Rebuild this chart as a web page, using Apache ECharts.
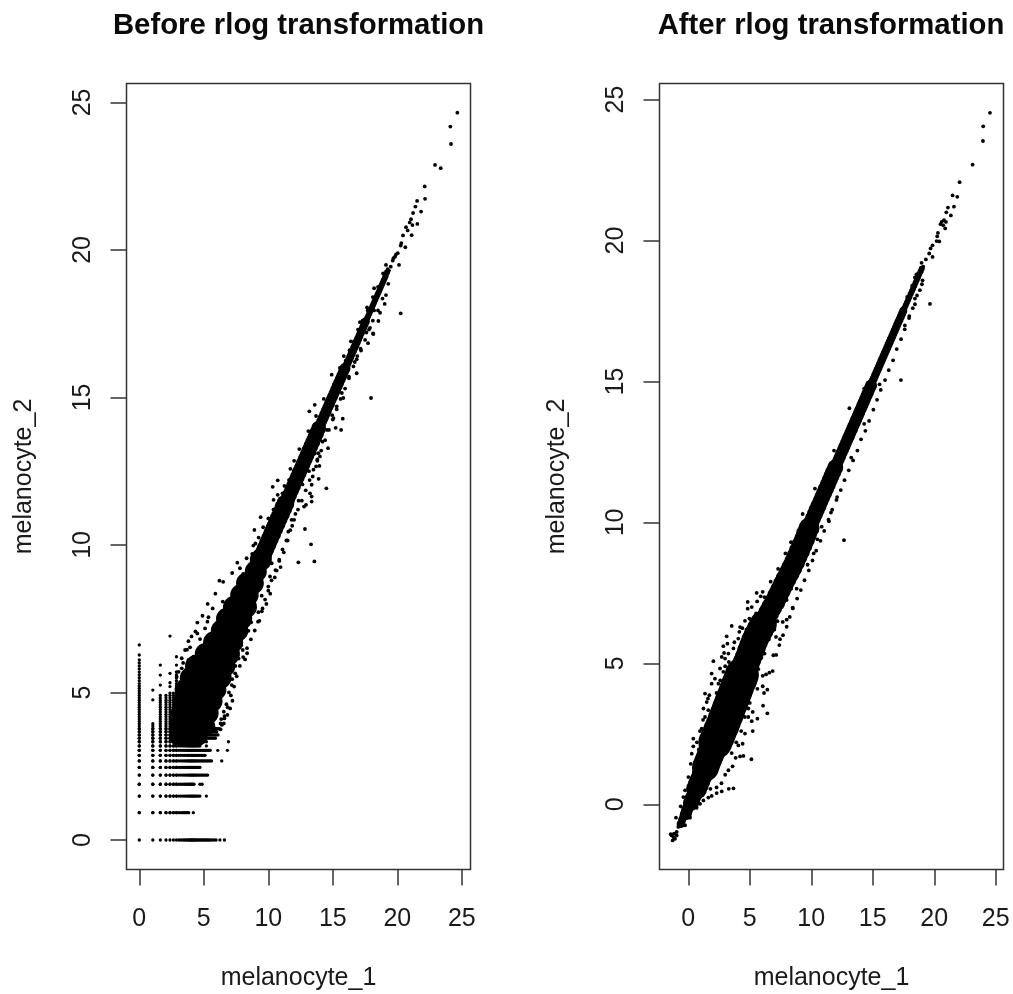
<!DOCTYPE html>
<html><head><meta charset="utf-8">
<style>html,body{margin:0;padding:0;background:#fff}#c{width:1013px;height:994px}</style>
<script src="https://cdn.jsdelivr.net/npm/echarts@6/dist/echarts.min.js"></script></head>
<body><div id="c"></div>
<script>
const tickValues=[0,5,10,15,20,25];
const titles=['Before rlog transformation','After rlog transformation'];
const xName='melanocyte_1', yName='melanocyte_2';

// --- left panel: discrete low-count rows and columns
const xLevels=[0,1.05,1.63,2.07,2.38,2.65,2.88,3.07,3.23,3.38,3.5,3.62,3.73,3.83,3.92,4,4.08,4.16,4.24,4.32,4.4,4.5,4.6,4.7,4.8,4.9,5,5.1,5.2,5.3,5.4,5.5,5.6,5.7,5.8,5.9,6,6.1,6.2];
const yLevels=[.925,1.49,1.89,2.2,2.46,2.68,2.87,3.04,3.19,3.33,3.45,3.56,3.67,3.77,3.86,3.94,4.02,4.1,4.18,4.26,4.34,4.42,4.5,4.58,4.66,4.74,4.82,4.9,4.98,5.06,5.14,5.22,5.3,5.4,5.5,5.6,5.7,5.8,5.9,6,6.1];
const leftRows=[[0,5.5,[5.65,5.8,5.95,6.25,6.6]],[.925,3.83,[4.19]],[1.49,4.7,[5.2]],[1.89,4.24,[4.7,4.87]],[2.2,5.3,[]],[2.46,4.7,[]],[2.68,5.6,[6.39]],[2.87,5.1,[]],[3.04,5.5,[6.08,6.83]],[3.19,4.7,[5.2]],[3.33,4.8,[5.2,6.91]],[3.45,5.9,[]],[3.56,6.1,[]],[3.67,6,[]],[3.77,6.2,[]]];
const leftCols=[[0,6.1,[6.27,6.61]],[1.05,3.94,[4.75,5.08]],[1.63,4.9,[5.25,5.59,5.93]],[2.07,4.9,[]],[2.38,5,[5.2,5.33,5.65,6.91]],[2.65,5,[]],[2.88,5.7,[5.93,6.21]]];

// --- left panel: dense cloud, summarised as overlapping discs of several widths
const leftCoreXL=[[3.2,3.95],[4,3.95],[4.9,3.95],[3.3,4.3],[4.3,4.3],[5.3,4.3],[3.5,4.7],[4.5,4.7],[5.6,4.7],[3.6,5.1],[4.8,5.1],[5.9,5.1],[4,5.5],[5.2,5.5],[6.3,5.5],[4.4,5.9],[5.5,5.9],[6.6,5.9],[5.15,6.3],[6,6.3],[6.95,6.3],[5.8,6.7],[6.5,6.7],[7.2,6.7],[6.4,7.1],[7,7.1],[7.6,7.1],[6.8,7.5],[7.9,7.5],[7.3,7.5],[7.34,7.9],[8.27,7.9],[7.9,8.3],[8.4,8.3],[8.35,8.7],[8.8,8.7],[9.03,9.1],[9.42,9.5]];
const leftCoreL=[[3,3.5],[3.4,3.5],[3.8,3.5],[4.2,3.5],[4.6,3.5],[3,3.75],[3.6,3.75],[4.2,3.75],[4.8,3.75],[5.2,3.85],[9.62,9.7],[9.78,9.87],[9.95,10.04],[10.12,10.21],[10.3,10.38],[10.46,10.55],[10.64,10.72],[10.8,10.89],[10.98,11.06],[11.15,11.23],[11.32,11.4]];
const leftCoreM=[[11.5,11.55],[11.65,11.7],[11.8,11.85],[11.95,12],[12.1,12.15],[12.25,12.3],[12.4,12.45],[12.55,12.6],[12.7,12.75],[12.85,12.9],[13,13.05],[13.15,13.2],[13.3,13.35],[13.45,13.5],[13.6,13.65],[13.75,13.8],[13.9,13.95]];
const leftCoreS=[[14.02,14.07],[14.14,14.19],[14.26,14.31],[14.38,14.43],[14.5,14.55],[14.62,14.67],[14.74,14.79],[14.86,14.91],[14.98,15.03],[15.1,15.14],[15.22,15.26],[15.34,15.38],[15.46,15.5],[15.58,15.62],[15.7,15.74],[15.82,15.86],[15.94,15.98]];
const leftCoreXS=[[16.06,16.08],[16.16,16.18],[16.26,16.28],[16.36,16.38],[16.46,16.48],[16.56,16.58],[16.66,16.68],[16.76,16.78],[16.86,16.88],[16.96,16.98],[17.06,17.08],[17.16,17.18],[17.26,17.28],[17.36,17.38],[17.46,17.48],[17.56,17.58]];
const leftCoreThin=[[17.66,17.68],[17.74,17.76],[17.82,17.84],[17.9,17.92],[17.98,18],[18.06,18.08],[18.14,18.16],[18.22,18.24],[18.3,18.32],[18.38,18.4],[18.46,18.48],[18.54,18.56],[18.62,18.64],[18.7,18.72],[18.78,18.8],[18.86,18.88],[18.94,18.96],[19.02,19.04],[19.1,19.12],[19.2,19.24]];

// --- left panel: individual outlying points
const leftDots=[[24.65,24.65],[24.11,24.18],[24.16,23.59],[22.92,22.88],[23.36,22.77],[22.12,22.15],[22.15,21.73],[21.53,21.66],[21.4,21.47],[21.84,21.3],[21.22,21.25],[21.06,21.04],[20.96,20.93],[21.55,20.88],[21.17,20.84],[20.67,20.77],[20.8,20.66],[20.44,20.49],[21.11,20.5],[20.31,20.23],[20.62,20.09],[20.26,20.15],[20.03,19.89],[19.82,19.77],[19.64,19.64],[20.13,19.49],[19.12,19.49],[19.49,19.43],[19.7,19.72],[19.9,19.85],[19.35,19.3],[19.25,19.35],[20.26,17.85],[19.02,18.17],[18.53,17.59],[18.12,17.17],[19.12,18.47],[18.66,17.87],[17.88,17.36],[17.96,14.98],[18.14,17.15],[17.73,16.84],[17.19,16.59],[16.85,16.29],[16.85,15.82],[14.91,15.77],[15.81,14.98],[13.18,14.53],[13.7,14.37],[15.77,14.28],[15.22,13.97],[15.64,13.9],[13.1,13.86],[14.63,13.28],[13.88,13.11],[14,13],[13.8,12.85],[13.96,12.68],[13.7,12.66],[13.44,12.32],[13.9,12.24],[14.5,11.92],[13.36,12.04],[13.23,11.75],[13.36,11.64],[13.36,11.47],[12.92,11.36],[12.77,11.3],[11.71,12.58],[10.73,12.19],[10.34,11.97],[10.73,11.7],[10.41,11.53],[9.41,10.94],[8.92,10.51],[12.84,10.54],[13.31,10.02],[12.33,9.41],[13.57,9.44],[10.85,9.46],[10.65,9.13],[10.26,9.38],[10.13,8.93],[10,8.59],[8.84,9.98],[8.32,9.55],[7.8,9.21],[8.06,9.02],[11.55,10.45],[11.81,10.85],[6.21,8.79],[9.49,8.28],[9.31,7.43],[9.23,7.72],[8.67,7.38],[8.46,7.09],[8.36,6.33],[8.2,6.12],[8.02,6.44],[7.43,5.65],[7.17,5.25],[7.22,4.72],[7.04,4.46],[6.83,4.24],[6.6,4.12],[5.69,7.85],[6.47,8.08],[5.36,7.55],[4.5,7.37],[4.35,7.07],[5.1,7.17],[5.28,7.4],[3.81,6.74],[4.71,6.81],[3.55,6.44],[3.29,6.16],[3.94,6.53],[4.2,6.21],[3.81,6.1],[3.29,5.82],[3.81,5.82],[3.29,5.48],[2.9,5.53],[3.2,5.1],[3.1,4.7],[2.95,4.4],[14.3,14.95],[13.6,14.75],[14.95,14.4],[12.4,13.25],[12,12.85],[11.6,12.2],[11.25,12],[11.1,11.75],[10.7,11.4],[10.4,11.2],[10,10.9],[9.6,10.6],[9.25,10.25],[9,10.05],[8.75,9.7],[13.6,13.1],[13.15,12.5],[12.65,12.05],[12.35,11.5],[12.1,11.05],[11.85,10.65],[11.5,10.15],[11.2,9.75],[10.95,9.25],[10.5,8.9],[10.15,8.35],[9.85,8],[9.55,7.85],[16.7,16.2],[16.25,15.7],[15.7,15.15],[15.3,14.7],[15.05,14.3],[14.55,13.9],[14.2,13.5],[15.55,16],[15.1,15.45],[15.85,16.4],[16.4,16.9],[17.1,17.55],[17.65,18.05],[18.2,18.7],[17.6,17.2],[18.2,17.95],[8.9,7.8],[8.55,7.55],[8.2,6.95],[7.9,6.6],[7.7,6.15],[7.45,5.9],[7.2,5.45],[6.95,5],[6.75,4.6],[6.55,4.35],[6.3,3.95],[6.35,4.1],[5.3,8],[5.9,8.35],[6.5,8.75],[7.2,9.05],[7.6,9.4],[4.9,7.6],[4.5,7],[4.05,6.9],[3.7,6.45],[3.4,6],[3.05,5.7]];
const leftEdge=[[18.9,19.2],[19.3,18.85],[18.5,18.75],[18.85,18.35],[18.1,18.4],[18.5,17.95],[17.7,17.95],[18.1,17.6],[17.3,17.6],[17.8,17.3],[16.95,17.3],[17.5,16.95],[16.65,16.9],[17.15,16.65],[16.3,16.6],[16.9,16.4],[16,16.25],[16.6,16.05],[15.65,15.9],[16.25,15.65],[15.35,15.55],[15.95,15.3],[15,15.2],[15.6,14.95],[14.65,14.85],[15.3,14.6],[14.35,14.55],[15,14.25],[14,14.2],[14.7,13.9],[13.65,13.9],[14.4,13.55],[13.3,13.55],[14.1,13.2],[12.95,13.2],[13.8,12.9],[12.6,12.9],[13.5,12.55],[12.3,12.55],[13.2,12.2],[11.95,12.25],[12.9,11.85],[11.6,11.9],[12.6,11.5],[11.3,11.6],[12.3,11.2],[10.95,11.25],[12,10.85],[10.6,10.9],[11.7,10.5],[10.25,10.6],[11.4,10.15],[9.9,10.25],[11.1,9.85],[9.6,9.95],[10.85,9.5],[9.25,9.6],[10.55,9.15],[8.95,9.3],[10.25,8.8],[8.6,9],[10,8.45],[8.25,8.7],[9.75,8.15],[7.9,8.35],[9.5,7.75],[7.5,8.05],[9.2,7.4],[7.2,7.75],[6.9,7.5],[6.5,7.2],[6.15,6.9],[8.95,7.1],[8.65,6.8],[8.35,6.5],[8.05,6.2],[7.8,5.9],[7.55,5.55],[7.35,5.2],[7.1,4.9],[6.85,4.5],[6.6,4.2],[6.4,3.9],[6.3,3.75],[6.55,3.95]];

// --- right panel: dense cloud, summarised as overlapping discs of several widths
const rightCoreXL=[[2.2,2.2],[2.4,2.4],[2.58,2.6],[2.78,2.8],[2.95,3],[3.13,3.2],[3.3,3.4],[3.48,3.6],[3.66,3.8],[3.84,4],[4,4.2],[4.2,4.4],[4.36,4.6]];
const rightCoreL=[[1.4,1.3],[1.52,1.45],[1.66,1.6],[1.8,1.75],[1.94,1.9],[2.07,2.05],[4.52,4.8],[4.7,5],[4.88,5.2],[5.05,5.4],[5.22,5.6],[5.4,5.8],[5.6,6],[5.85,6.2],[6.1,6.4]];
const rightCoreM=[[.68,.55],[.82,.7],[.95,.85],[1.1,1],[1.25,1.15],[6.32,6.6],[6.55,6.8],[6.8,7],[7.05,7.2],[7.28,7.4],[7.5,7.6],[7.72,7.8],[7.95,8],[8.2,8.2],[8.42,8.4],[8.65,8.6],[8.85,8.8],[9.05,9],[9.25,9.2],[9.45,9.4],[9.62,9.6],[9.82,9.8]];
const rightCoreS=[[.22,.05],[.35,.2],[.5,.35],[.6,.45],[10,10],[10.15,10.15],[10.3,10.3],[10.45,10.45],[10.6,10.6],[10.75,10.75],[10.9,10.9],[11.05,11.05],[11.2,11.2],[11.35,11.35],[11.5,11.5],[11.65,11.65],[11.8,11.8],[11.95,11.95]];
const rightCoreXS=[[-.2,-.35],[-.1,-.2],[.05,-.05],[12.1,12.1],[12.22,12.22],[12.34,12.34],[12.46,12.46],[12.58,12.58],[12.7,12.7],[12.82,12.82],[12.94,12.94],[13.06,13.06],[13.18,13.18],[13.3,13.3],[13.42,13.42],[13.54,13.54],[13.66,13.66],[13.78,13.78],[13.9,13.9],[14.02,14.02],[14.14,14.14],[14.26,14.26],[14.38,14.38],[14.5,14.5],[14.62,14.62],[14.74,14.74],[14.86,14.86]];
const rightCoreThin=[[-.62,-.7],[-.5,-.55],[-.4,-.45],[14.98,15],[15.08,15.1],[15.18,15.2],[15.28,15.3],[15.38,15.4],[15.48,15.5],[15.58,15.6],[15.68,15.7],[15.78,15.8],[15.88,15.9],[15.98,16],[16.08,16.1],[16.18,16.2],[16.28,16.3],[16.38,16.4],[16.48,16.5],[16.58,16.6],[16.68,16.7],[16.78,16.8],[16.88,16.9],[16.98,17],[17.08,17.1],[17.18,17.2],[17.28,17.3],[17.38,17.4],[17.48,17.5]];
const rightCoreHair=[[17.58,17.6],[17.68,17.7],[17.78,17.8],[17.88,17.9],[17.98,18],[18.08,18.1],[18.18,18.2],[18.28,18.3],[18.38,18.4],[18.48,18.5],[18.58,18.6],[18.68,18.7],[18.78,18.8],[18.88,18.9],[18.98,19]];

// --- right panel: individual outlying points
const rightDots=[[24.53,24.53],[23.98,24.05],[23.96,23.53],[23.12,22.69],[22.06,22.07],[21.49,21.6],[21.87,21.55],[21.11,21.17],[21.6,21.2],[20.98,21],[21.35,20.89],[20.79,20.72],[20.6,20.66],[20.95,20.66],[20.51,20.58],[20.73,20.54],[20.89,20.43],[20.3,20.27],[20.24,20.15],[20.19,19.98],[20.41,19.97],[19.86,19.83],[19.7,19.72],[19.59,19.54],[19.86,19.42],[19.32,19.33],[18.97,19.21],[19.1,19.07],[19.65,17.75],[18.83,18.24],[18.43,18.69],[19.05,18.59],[18.43,17.94],[18.43,17.74],[17.97,17.32],[17.61,16.99],[18.97,18.89],[17.29,15.05],[12.66,9.37],[11.44,10.04],[11.6,10.35],[12.1,10.9],[13.25,12.3],[14.3,13.5],[13.1,14.05],[14.3,14.75],[15.55,14.9],[11.85,12.55],[10.3,11.2],[9.3,10.3],[8.35,9.3],[10.85,9.85],[10.5,9.4],[10.2,8.9],[9.7,8.5],[3.53,6.33],[3.12,5.96],[4.21,6.29],[4.15,6.12],[4.07,5.88],[3.18,5.7],[2.85,5.61],[3.67,5.53],[2.91,5.37],[3.26,5.35],[2.72,5.23],[2.04,5.08],[2.99,5.17],[2.58,4.82],[1.9,4.64],[2.17,4.46],[2.85,4.7],[1.9,4.28],[2.45,4.28],[1.36,3.93],[1.71,3.87],[1.5,3.63],[1.23,3.4],[1.63,3.34],[1.36,3.1],[1.09,2.69],[.41,2.33],[.41,2.06],[.28,1.8],[.2,1.44],[.01,.97],[-.26,.5],[-.4,.26],[-.62,-.07],[-1,-.47],[5.56,7.5],[6.05,7.54],[5.89,7.38],[4.83,7.18],[4.83,6.94],[5.16,7],[5.51,6.77],[4.97,6.59],[4.61,6.51],[7.46,5.86],[8.49,6.98],[8.81,7.65],[8,6.55],[7.68,6.47],[7.13,5.94],[6.92,5.29],[6.86,4.73],[6.59,4.67],[6.32,4.61],[6.05,4.56],[6.43,4.07],[6.16,3.95],[6.05,4.19],[5.62,4.1],[6.08,3.5],[6.43,3.23],[5.24,3.28],[5.62,3.04],[4.88,3.4],[5.16,2.95],[4.88,3.1],[5.24,2.6],[4.61,2.51],[4.42,2.15],[4.07,2.09],[4.48,1.72],[4.21,1.7],[3.85,1.65],[5.13,1.6],[3.26,1.21],[3.53,1.82],[3.67,.57],[3.29,.55],[2.72,.46],[2.31,.4],[1.9,.3],[1.63,.24],[1.23,.14],[.96,.02],[.68,-.12],[.14,-.47],[-.26,-.74],[-.81,-.8],[-.54,-.45],[-1.35,-1.1],[-1.16,-1.04],[-.94,-1.1],[-1.27,-1.28],[-1.08,-1.22],[-1.43,-1.06],[-.94,-.98],[-1.21,-1.16],[.55,1.5],[.7,2.2],[.95,2.6],[1.2,3],[1.6,3.75],[.85,1.95],[.45,1.15],[.25,.85],[.05,.55],[3.6,1.35],[3,1.05],[2.7,.75],[2.3,.6],[1.8,.55],[3.9,2.2],[4.3,2.6],[4.6,3.1],[5,3.6],[5.4,4.35],[5.7,4.8],[5.95,5.2],[6.2,5.35],[6.55,5.85],[7,6.2],[7.25,6.5],[7.6,7],[8,7.25],[8.35,7.65],[8.7,8.05],[9.05,8.3],[2.3,3.95],[2.6,4.4],[3,4.9],[3.3,5.05],[3.75,5.75],[4.25,5.6],[4.4,6.25],[4.75,6.2],[5.1,6.55],[5.6,7.2],[6.2,7.35],[6.7,7.9],[7.3,8.35],[7.9,8.9]];
const rightEdge=[[18.55,18.8],[19,18.45],[18.2,18.4],[18.6,18.05],[17.8,18],[18.25,17.6],[17.45,17.6],[17.95,17.25],[17.1,17.25],[17.6,16.85],[16.7,16.85],[17.3,16.5],[16.35,16.5],[16.95,16.15],[16,16.15],[16.65,15.75],[15.6,15.8],[16.3,15.4],[15.25,15.45],[16,15.05],[14.9,15.1],[15.65,14.7],[14.55,14.75],[15.35,14.35],[14.2,14.4],[15.05,14],[13.85,14.05],[14.7,13.6],[13.5,13.7],[14.4,13.25],[13.15,13.35],[14.05,12.95],[12.8,13],[13.75,12.55],[12.45,12.65],[13.4,12.2],[12.1,12.3],[13.05,11.85],[11.75,11.95],[12.7,11.5],[11.4,11.6],[12.4,11.15],[11.05,11.25],[12.05,10.8],[10.7,10.9],[11.7,10.45],[10.35,10.55],[11.4,10.1],[9.95,10.2],[11.05,9.7],[9.6,9.85],[10.75,9.35],[9.2,9.5],[10.4,9],[8.85,9.15],[10.1,8.65],[8.5,8.85],[9.8,8.3],[8.15,8.5],[9.45,7.95],[7.75,8.2],[9.15,7.6],[7.4,7.85],[8.85,7.3],[7,7.55],[8.5,6.95],[6.65,7.2],[8.25,6.65],[6.3,6.95],[8,6.3],[5.95,6.65],[7.7,6],[5.6,6.35],[7.4,5.65],[5.25,6.1],[7.15,5.3],[4.9,5.8]];

// --- build the drawn series from the named lists
const lowCounts=[];
leftRows.forEach(([y,end,extra])=>{xLevels.filter(x=>x<=end).concat(extra).forEach(x=>lowCounts.push([x,y]));});
leftCols.forEach(([x,top,extra])=>{yLevels.filter(y=>y<=top).concat(extra).forEach(y=>lowCounts.push([x,y]));});

const ink='#000000', line='#333333', textCol='#1a1a1a', fontFamily='"Liberation Sans", Arial, sans-serif';
function layer(data,size,idx){return {type:'scatter',data,symbol:'circle',symbolSize:size,xAxisIndex:idx,yAxisIndex:idx,silent:true,animation:false,itemStyle:{color:ink,opacity:1},emphasis:{disabled:true}};}
function xAxis(min,max,idx){return {type:'value',gridIndex:idx,min,max,name:xName,nameLocation:'middle',nameGap:96,nameTextStyle:{fontSize:25,color:textCol,fontFamily},splitLine:{show:false},axisLine:{show:false,onZero:false},axisTick:{show:true,length:16,customValues:tickValues,lineStyle:{color:line,width:1.5}},axisLabel:{customValues:tickValues,margin:37,fontSize:25,color:textCol,fontFamily,showMinLabel:true,showMaxLabel:true}};}
function yAxis(min,max,idx){return {type:'value',gridIndex:idx,min,max,name:yName,nameLocation:'middle',nameGap:90,nameTextStyle:{fontSize:25,color:textCol,fontFamily},splitLine:{show:false},axisLine:{show:false,onZero:false},axisTick:{show:true,length:16,customValues:tickValues,lineStyle:{color:line,width:1.5}},axisLabel:{customValues:tickValues,rotate:90,margin:31,fontSize:25,color:textCol,fontFamily,align:'center',verticalAlign:'bottom',showMinLabel:true,showMaxLabel:true}};}

const option={backgroundColor:'#fff',animation:false,
 title:[{text:titles[0],left:293.5,top:6,textAlign:'center',textStyle:{fontSize:29.3,fontWeight:'bold',color:'#0a0a0a',fontFamily}},
        {text:titles[1],left:826,top:6,textAlign:'center',textStyle:{fontSize:29.3,fontWeight:'bold',color:'#0a0a0a',fontFamily}}],
 grid:[{left:126.5,top:83.5,width:344,height:786,show:true,outerBoundsMode:'none',borderColor:line,borderWidth:1.5,backgroundColor:'#fff'},
       {left:659.5,top:83.5,width:344,height:786,show:true,outerBoundsMode:'none',borderColor:line,borderWidth:1.5,backgroundColor:'#fff'}],
 xAxis:[xAxis(-.99,25.67,0),xAxis(-2.34,25.63,1)],
 yAxis:[yAxis(-1,25.64,0),yAxis(-2.31,25.57,1)],
 series:[layer(lowCounts,3.3,0),layer(leftCoreXL,22,0),layer(leftCoreL,18,0),layer(leftCoreM,15,0),layer(leftCoreS,11,0),layer(leftCoreXS,8,0),layer(leftCoreThin,6,0),layer(leftDots,3.8,0),layer(leftEdge,3.8,0),
         layer(rightCoreXL,34,1),layer(rightCoreL,27,1),layer(rightCoreM,21,1),layer(rightCoreS,16,1),layer(rightCoreXS,12,1),layer(rightCoreThin,8,1),layer(rightCoreHair,6,1),layer(rightDots,3.8,1),layer(rightEdge,3.8,1)]};
echarts.init(document.getElementById('c'),null,{renderer:'canvas'}).setOption(option);
</script></body></html>
